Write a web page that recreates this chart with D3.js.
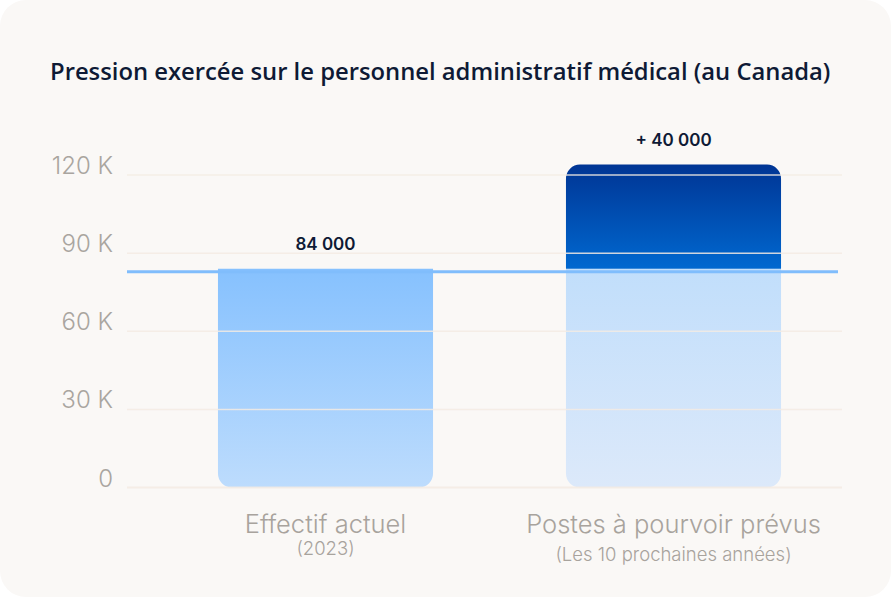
<!DOCTYPE html>
<html>
<head>
<meta charset="utf-8">
<script src="https://cdn.jsdelivr.net/npm/d3@7"></script>
<style>
  html, body { margin: 0; padding: 0; background: #ffffff; }
  svg { display: block; }
</style>
</head>
<body>
<svg></svg>
<script>
// chart data
const categories = ["Effectif actuel", "Postes à pourvoir prévus"];
const subLabels = ["(2023)", "(Les 10 prochaines années)"];
const baseValues = [84000, 84000];
const addedValues = [0, 40000];
const valueLabels = ["84 000", "+ 40 000"];
const yTicks = [0, 30000, 60000, 90000, 120000];
const yTickLabels = ["0", "30 K", "60 K", "90 K", "120 K"];
const referenceValue = 84000;
const title = "Pression exercée sur le personnel administratif médical (au Canada)";

let width = 891, height = 597;

let svg = d3.select("svg")
    .attr("width", width)
    .attr("height", height)
    .attr("viewBox", "0 0 " + width + " " + height);

// card background
svg.append("rect")
    .attr("width", width)
    .attr("height", height)
    .attr("rx", 26)
    .attr("fill", "#faf8f6");

let x = d3.scaleBand()
    .domain(categories)
    .range([151.5, 847.5])
    .paddingInner(0.382)
    .paddingOuter(0.191);

let y = d3.scaleLinear()
    .domain([0, 120000])
    .range([487.5, 175]);

// gradients
let defs = svg.append("defs");
function grad(id, top, bottom) {
  let g = defs.append("linearGradient")
      .attr("id", id)
      .attr("x1", 0).attr("y1", 0).attr("x2", 0).attr("y2", 1);
  g.append("stop").attr("offset", "0%").attr("stop-color", top);
  g.append("stop").attr("offset", "100%").attr("stop-color", bottom);
}
grad("gCurrent", "#86c1fe", "#bddcfd");
grad("gBase", "#c1defb", "#dce9fa");
grad("gAdded", "#003594", "#0068d0");

// rect with chosen rounded corners
function roundRect(x0, y0, w, h, rTop, rBottom) {
  let p = d3.path();
  p.moveTo(x0 + rTop, y0);
  p.lineTo(x0 + w - rTop, y0);
  p.arcTo(x0 + w, y0, x0 + w, y0 + rTop, rTop);
  p.lineTo(x0 + w, y0 + h - rBottom);
  p.arcTo(x0 + w, y0 + h, x0 + w - rBottom, y0 + h, rBottom);
  p.lineTo(x0 + rBottom, y0 + h);
  p.arcTo(x0, y0 + h, x0, y0 + h - rBottom, rBottom);
  p.lineTo(x0, y0 + rTop);
  p.arcTo(x0, y0, x0 + rTop, y0, rTop);
  p.closePath();
  return p.toString();
}

let bars = svg.append("g");

// base bars
bars.selectAll("path.base")
    .data(categories)
    .enter()
    .append("path")
    .attr("class", "base")
    .attr("d", (d, i) => roundRect(x(d), y(baseValues[i]), x.bandwidth(),
        y(0) - y(baseValues[i]), 0, 14))
    .attr("fill", (d, i) => i == 0 ? "url(#gCurrent)" : "url(#gBase)");

// added bars on top
bars.selectAll("path.added")
    .data(categories.filter((d, i) => addedValues[i] > 0))
    .enter()
    .append("path")
    .attr("class", "added")
    .attr("d", d => {
      let i = categories.indexOf(d);
      let top = y(baseValues[i] + addedValues[i]);
      return roundRect(x(d), top, x.bandwidth(), y(baseValues[i]) - top, 14, 0);
    })
    .attr("fill", "url(#gAdded)");

// gridlines over the bars
svg.append("g")
    .selectAll("line")
    .data(yTicks)
    .enter()
    .append("line")
    .attr("x1", 127)
    .attr("x2", 842)
    .attr("y1", d => y(d))
    .attr("y2", d => y(d))
    .attr("stroke", "#f3ebe3")
    .attr("stroke-opacity", 0.85)
    .attr("stroke-width", d => d == 0 ? 2 : 1.5);

// reference line at current headcount
svg.append("line")
    .attr("x1", 127)
    .attr("x2", 838)
    .attr("y1", y(referenceValue) + 3)
    .attr("y2", y(referenceValue) + 3)
    .attr("stroke", "#80bdfc")
    .attr("stroke-width", 3);

// y labels
svg.append("g")
    .selectAll("text")
    .data(yTicks)
    .enter()
    .append("text")
    .attr("x", 113)
    .attr("y", d => y(d) - 1)
    .attr("text-anchor", "end")
    .attr("font-family", "Inter, sans-serif")
    .attr("font-weight", 300)
    .attr("font-size", 24)
    .attr("fill", "#a9a59f")
    .text((d, i) => yTickLabels[i]);

// value labels
svg.append("g")
    .selectAll("text")
    .data(categories)
    .enter()
    .append("text")
    .attr("x", d => x(d) + x.bandwidth() / 2)
    .attr("y", (d, i) => y(baseValues[i] + addedValues[i]) - 19)
    .attr("text-anchor", "middle")
    .attr("font-family", "Inter, sans-serif")
    .attr("font-weight", 600)
    .attr("font-size", 17)
    .attr("fill", "#0e1a35")
    .text((d, i) => valueLabels[i]);

// category labels
let cat = svg.append("g")
    .selectAll("g")
    .data(categories)
    .enter()
    .append("g");

cat.append("text")
    .attr("x", d => x(d) + x.bandwidth() / 2)
    .attr("y", 533)
    .attr("text-anchor", "middle")
    .attr("font-family", "Inter, sans-serif")
    .attr("font-weight", 300)
    .attr("font-size", 25.5)
    .attr("fill", "#a8a39d")
    .text(d => d);

cat.append("text")
    .attr("x", d => x(d) + x.bandwidth() / 2)
    .attr("y", (d, i) => i == 0 ? 555 : 561)
    .attr("text-anchor", "middle")
    .attr("font-family", "Inter, sans-serif")
    .attr("font-weight", 300)
    .attr("font-size", 18.5)
    .attr("fill", "#a8a39d")
    .text((d, i) => subLabels[i]);

// title
svg.append("text")
    .attr("x", 50)
    .attr("y", 80)
    .attr("font-family", "'Open Sans', sans-serif")
    .attr("font-weight", 600)
    .attr("font-size", 23.8)
    .attr("fill", "#0e1a35")
    .text(title);
</script>
</body>
</html>
